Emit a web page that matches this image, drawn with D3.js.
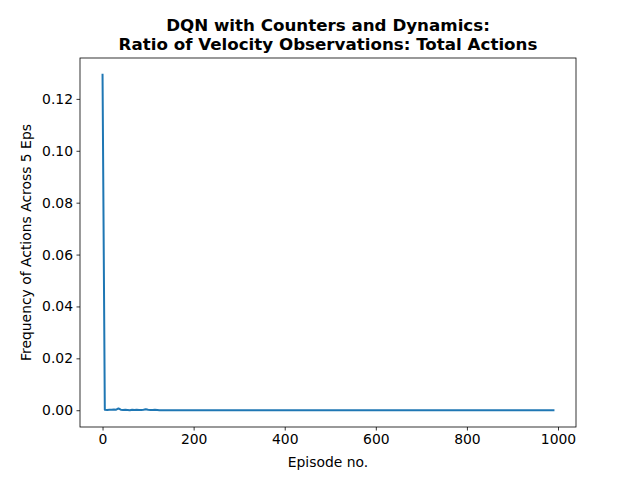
<!DOCTYPE html>
<html><head><meta charset="utf-8">
<script src="https://cdn.jsdelivr.net/npm/d3@7"></script>
<style>body{margin:0;background:#fff}svg{display:block}text{font-family:"DejaVu Sans",sans-serif}</style>
</head><body>
<script>
const titleLines = ["DQN with Counters and Dynamics:", "Ratio of Velocity Observations: Total Actions"];
const xLabel = "Episode no.";
const yLabel = "Frequency of Actions Across 5 Eps";
const xTicks = [0, 200, 400, 600, 800, 1000];
const yTicks = [0.00, 0.02, 0.04, 0.06, 0.08, 0.10, 0.12];
const episodeStep = 5;
const values = [
0.1293, 0.0002, 0.0001, 0.0002, 0.0002, 0.0003, 0.0002, 0.0007, 0.0002, 0.0001,
0.0002, 0.0001, 0.0000, 0.0002, 0.0001, 0.0002, 0.0001, 0.0001, 0.0002, 0.0004,
0.0002, 0.0001, 0.0001, 0.0002, 0.0001, 0.0000,
0, 0, 0, 0, 0, 0, 0, 0, 0, 0,
0, 0, 0, 0, 0, 0, 0, 0, 0, 0,
0, 0, 0, 0, 0, 0, 0, 0, 0, 0,
0, 0, 0, 0, 0, 0, 0, 0, 0, 0,
0, 0, 0, 0, 0, 0, 0, 0, 0, 0,
0, 0, 0, 0, 0, 0, 0, 0, 0, 0,
0, 0, 0, 0, 0, 0, 0, 0, 0, 0,
0, 0, 0, 0, 0, 0, 0, 0, 0, 0,
0, 0, 0, 0, 0, 0, 0, 0, 0, 0,
0, 0, 0, 0, 0, 0, 0, 0, 0, 0,
0, 0, 0, 0, 0, 0, 0, 0, 0, 0,
0, 0, 0, 0, 0, 0, 0, 0, 0, 0,
0, 0, 0, 0, 0, 0, 0, 0, 0, 0,
0, 0, 0, 0, 0, 0, 0, 0, 0, 0,
0, 0, 0, 0, 0, 0, 0, 0, 0, 0,
0, 0, 0, 0, 0, 0, 0, 0, 0, 0,
0, 0, 0, 0, 0, 0, 0, 0, 0, 0,
0, 0, 0
];
const episodes = values.map((_, i) => i * episodeStep);

const W = 640, H = 480;
const m = {left: 80, right: 576, top: 58, bottom: 427};
const svg = d3.select("body").append("svg").attr("width", W).attr("height", H);

const xMin = d3.min(episodes), xMax = d3.max(episodes);
const xPad = (xMax - xMin) * 0.05;
const yMin = d3.min(values), yMax = d3.max(values);
const yPad = (yMax - yMin) * 0.05;
const x = d3.scaleLinear().domain([xMin - xPad, xMax + xPad]).range([m.left, m.right]);
const y = d3.scaleLinear().domain([yMin - yPad, yMax + yPad]).range([m.bottom, m.top]);

const xAxis = svg.append("g").attr("transform", `translate(0,${m.bottom})`)
  .call(d3.axisBottom(x).tickValues(xTicks).tickSize(3.5).tickPadding(3.5).tickFormat(d3.format("d")));
const yAxis = svg.append("g").attr("transform", `translate(${m.left},0)`)
  .call(d3.axisLeft(y).tickValues(yTicks).tickSize(3.5).tickPadding(3.5).tickFormat(d3.format(".2f")));
[xAxis, yAxis].forEach(g => {
  g.select(".domain").remove();
  g.selectAll("text").attr("font-size", "13.9px").attr("font-family", "DejaVu Sans").attr("fill", "#000");
  g.selectAll("line").attr("stroke", "#000").attr("stroke-width", 0.8);
});

svg.append("path").datum(values)
  .attr("fill", "none").attr("stroke", "#1f77b4").attr("stroke-width", 2)
  .attr("stroke-linejoin", "round").attr("stroke-linecap", "square")
  .attr("d", d3.line().x((d, i) => x(episodes[i])).y(d => y(d)));

svg.append("rect").attr("x", m.left).attr("y", m.top)
  .attr("width", m.right - m.left).attr("height", m.bottom - m.top)
  .attr("fill", "none").attr("stroke", "#000").attr("stroke-width", 0.8);

const cx = (m.left + m.right) / 2;
svg.append("text").attr("x", cx).attr("y", 31).attr("text-anchor", "middle")
  .attr("font-size", "16.7px").attr("font-weight", "bold").text(titleLines[0]);
svg.append("text").attr("x", cx).attr("y", 49.5).attr("text-anchor", "middle")
  .attr("font-size", "16.7px").attr("font-weight", "bold").text(titleLines[1]);

svg.append("text").attr("x", cx).attr("y", 467).attr("text-anchor", "middle")
  .attr("font-size", "13.9px").text(xLabel);
svg.append("text").attr("transform", `translate(31,${(m.top + m.bottom) / 2}) rotate(-90)`)
  .attr("text-anchor", "middle").attr("font-size", "13.9px").text(yLabel);
</script>
</body></html>
